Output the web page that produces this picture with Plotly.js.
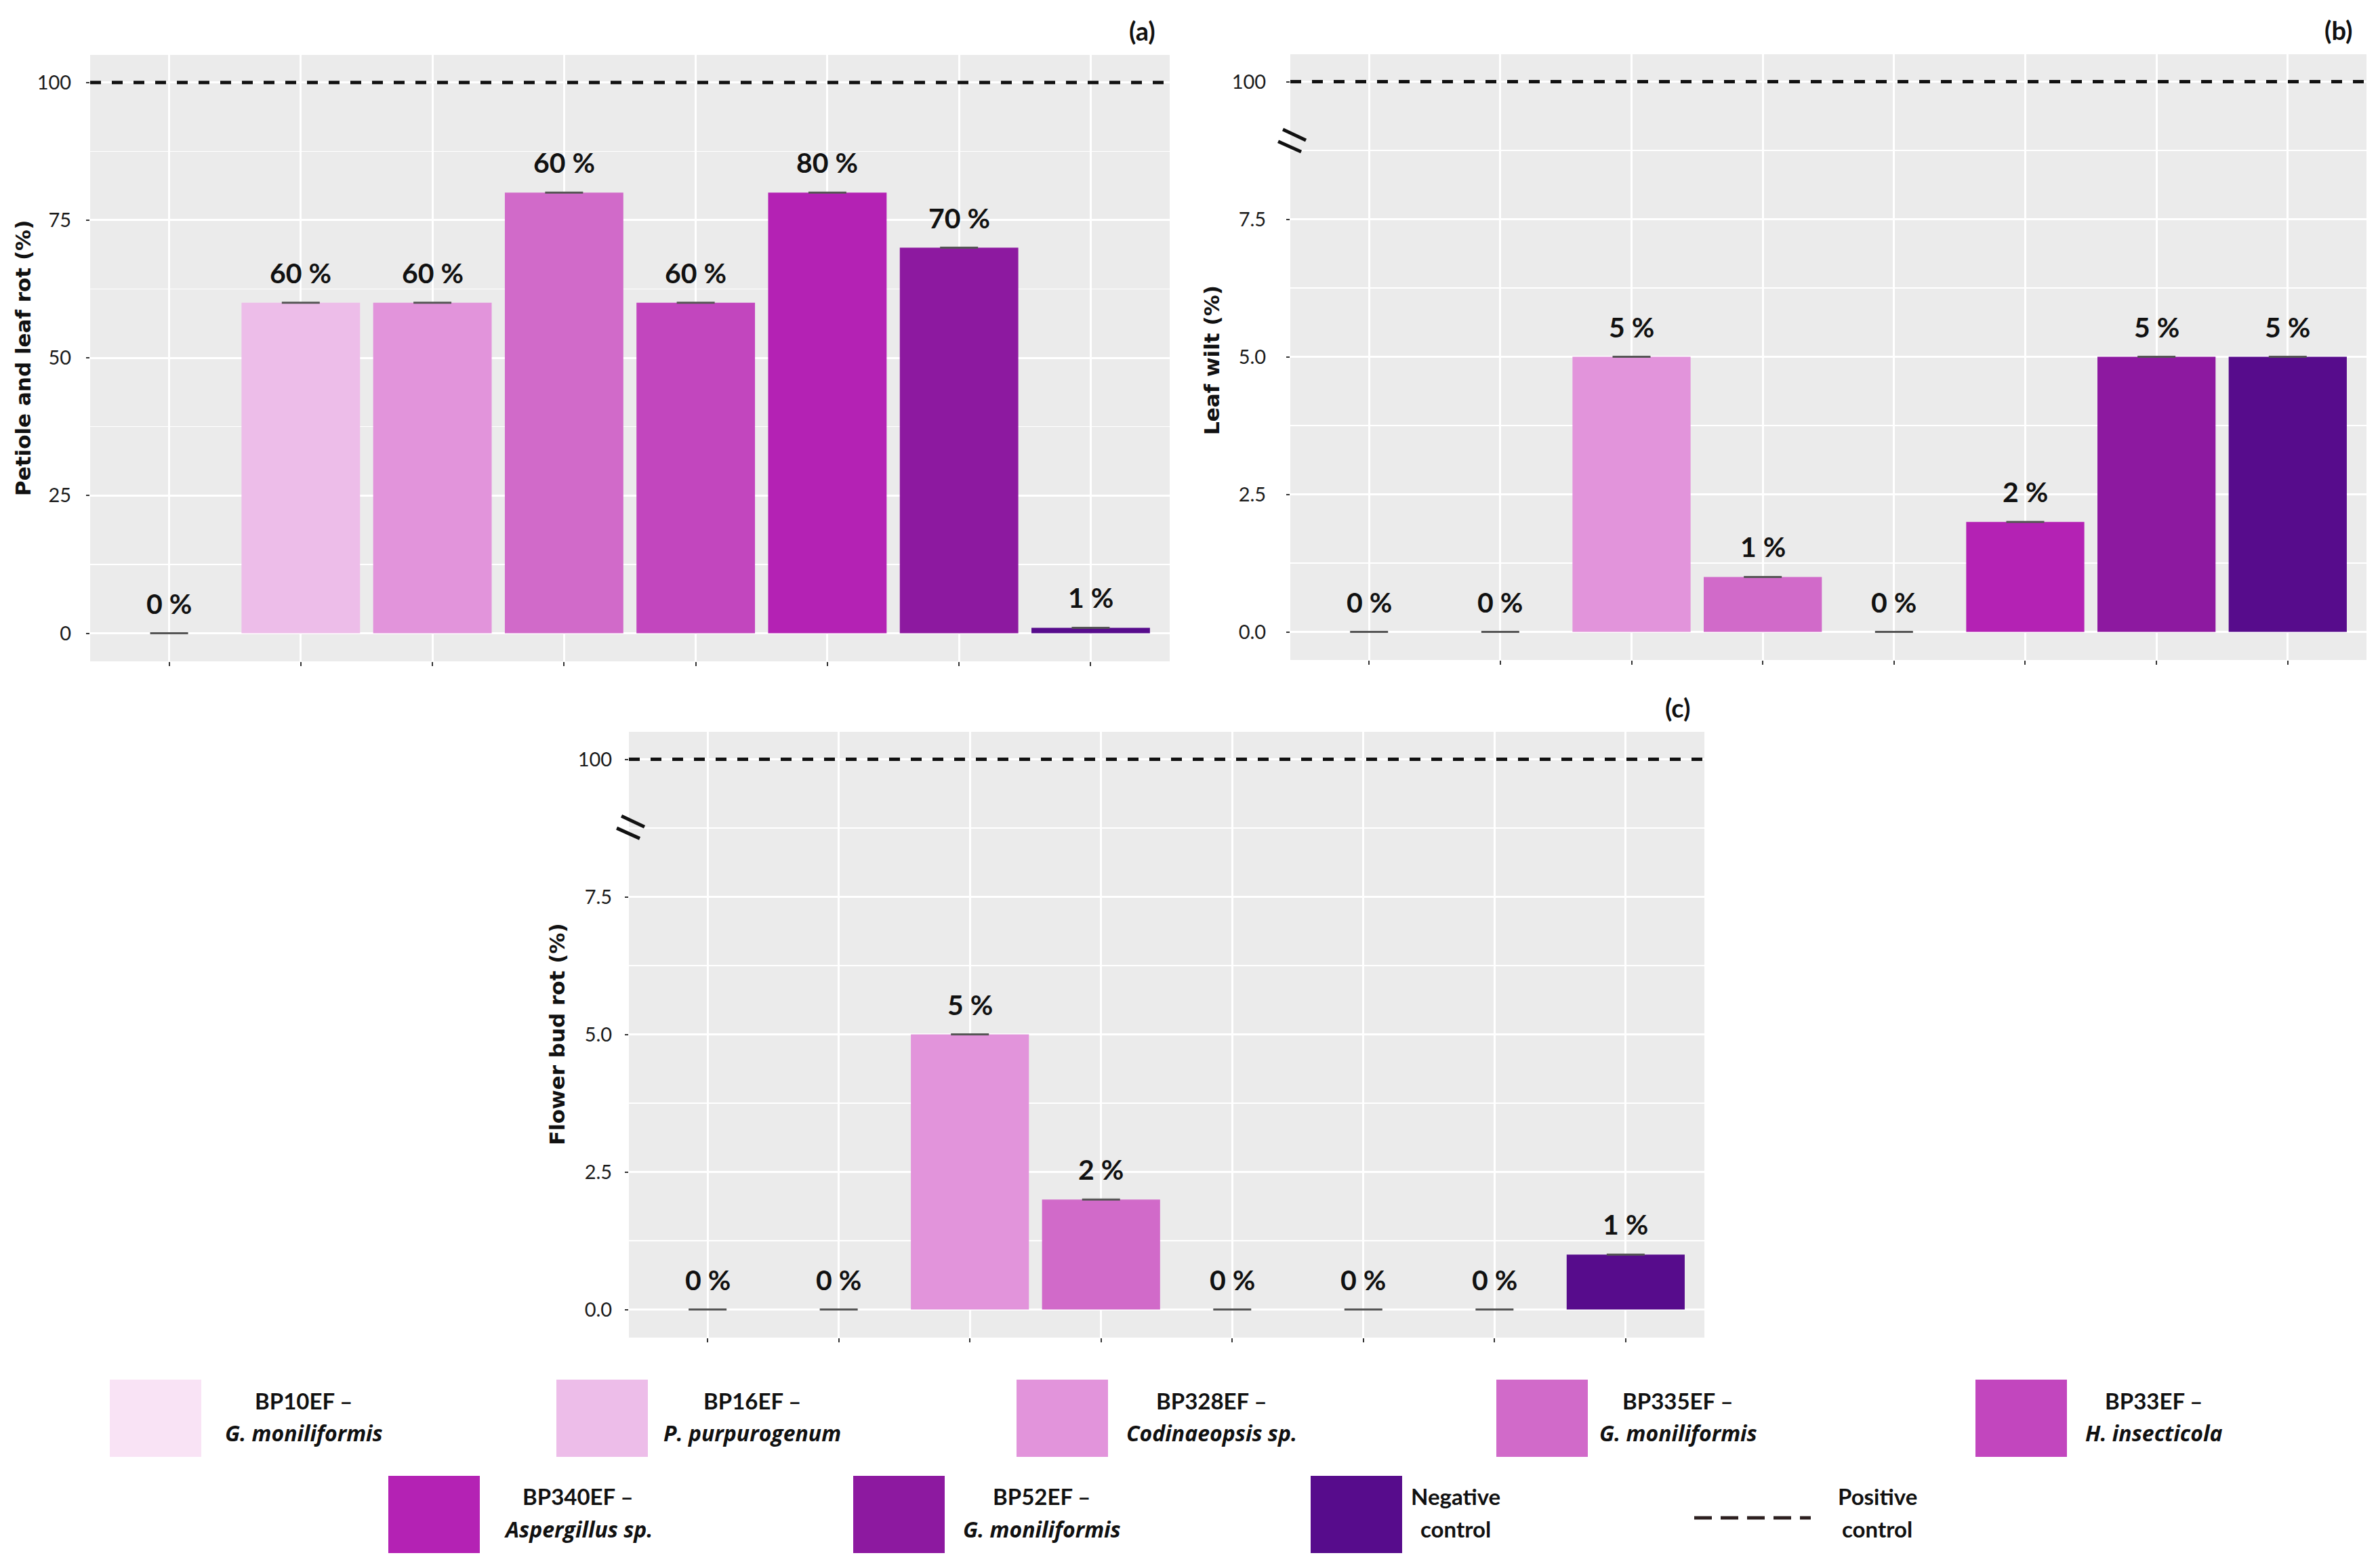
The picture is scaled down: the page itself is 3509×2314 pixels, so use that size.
<!DOCTYPE html>
<html>
<head>
<meta charset="utf-8">
<script src="https://cdn.plot.ly/plotly-3.0.1.min.js"></script>
<style>
  html, body { margin: 0; padding: 0; background: #fff; }
  #chart { width: 3509px; height: 2314px; }
</style>
</head>
<body>
<div id="chart"></div>
<script>
// categories (same order in every panel)
var strains = ['BP10EF', 'BP16EF', 'BP328EF', 'BP335EF', 'BP33EF', 'BP340EF', 'BP52EF', 'Negative control'];
var species = ['G. moniliformis', 'P. purpurogenum', 'Codinaeopsis sp.', 'G. moniliformis', 'H. insecticola', 'Aspergillus sp.', 'G. moniliformis', ''];
var barColors = ['#F9E3F5', '#EDBDE9', '#E294DB', '#D16AC9', '#C246BE', '#B422B4', '#8D19A0', '#570C8C'];

// (a) petiole and leaf rot
var petioleLeafRot = [0, 60, 60, 80, 60, 80, 70, 1];
var petioleLeafRotText = ['0 %', '60 %', '60 %', '60 %', '60 %', '80 %', '70 %', '1 %'];
// (b) leaf wilt
var leafWilt = [0, 0, 5, 1, 0, 2, 5, 5];
var leafWiltText = ['0 %', '0 %', '5 %', '1 %', '0 %', '2 %', '5 %', '5 %'];
// (c) flower bud rot
var flowerBudRot = [0, 0, 5, 2, 0, 0, 0, 1];
var flowerBudRotText = ['0 %', '0 %', '5 %', '2 %', '0 %', '0 %', '0 %', '1 %'];

// positive control line
var positiveControl = 100;

// tick labels
var ticksA = [0, 25, 50, 75, 100];
var ticksAText = ['0', '25', '50', '75', '100'];
var minorA = [12.5, 37.5, 62.5, 87.5];
// broken axis for (b) and (c): 10 on the axis stands for 100 above the break
var brokenAt = 10;
var ticksBC = [0, 2.5, 5, 7.5, brokenAt];
var ticksBCText = ['0.0', '2.5', '5.0', '7.5', '100'];
var minorBC = [1.25, 3.75, 6.25, 8.75];

var W = 3509, H = 2314;
function px(x) { return x / W; }
function py(y) { return 1 - y / H; }

function barTrace(values, xa, ya) {
  return {
    type: 'bar',
    x: strains,
    y: values,
    xaxis: xa,
    yaxis: ya,
    width: 0.9,
    marker: { color: barColors, line: { width: 0 } },
    error_y: { type: 'data', array: values.map(function () { return 0; }), visible: true, width: 28, thickness: 3, color: '#555' },
    hoverinfo: 'skip'
  };
}

function xAxis(l, r, anchor) {
  return {
    domain: [px(l), px(r)],
    anchor: anchor,
    type: 'category',
    range: [-0.6, 7.6],
    showgrid: true, gridcolor: '#FFFFFF', gridwidth: 3,
    showticklabels: false,
    ticks: 'outside', ticklen: 6, tickwidth: 2, tickcolor: '#333',
    zeroline: false, showline: false, fixedrange: true
  };
}

function yAxis(t, b, anchor, range, tv, tt, minor, standoff) {
  return {
    domain: [py(b), py(t)],
    anchor: anchor,
    range: range,
    tickmode: 'array', tickvals: tv, ticktext: tt,
    showgrid: true, gridcolor: '#FFFFFF', gridwidth: 3,
    minor: { tickvals: minor, showgrid: true, gridcolor: '#FFFFFF', gridwidth: 1.5, ticks: '' },
    ticks: 'outside', ticklen: 5, tickwidth: 2, tickcolor: '#333',
    ticklabelstandoff: standoff,
    tickfont: { family: 'Lato, Arial, sans-serif', size: 29, color: '#1a1a1a' },
    zeroline: false, showline: false, fixedrange: true
  };
}

function valueLabels(values, texts, xr, yr) {
  return values.map(function (v, i) {
    return {
      xref: xr, yref: yr, x: strains[i], y: v,
      text: texts[i], showarrow: false,
      xanchor: 'center', yanchor: 'bottom', yshift: 18,
      font: { family: 'Lato, Arial, sans-serif', size: 41, weight: 'bold', color: '#111' }
    };
  });
}

function controlLine(xr, yr, yv) {
  return {
    type: 'line', xref: xr, yref: yr, x0: 0, x1: 1, y0: yv, y1: yv,
    line: { color: '#111', width: 5, dash: '16px,16px' }, layer: 'above'
  };
}

function breakMarks(xr, yr, cy) {
  return [
    { type: 'line', xref: xr, yref: yr, x0: -0.0069, x1: 0.0145, y0: cy + 0.0189, y1: cy + 0.001, line: { color: '#111', width: 5 } },
    { type: 'line', xref: xr, yref: yr, x0: -0.0113, x1: 0.0101, y0: cy - 0.001, y1: cy - 0.018, line: { color: '#111', width: 5 } }
  ];
}

function panelTag(text, xr, yr) {
  return {
    xref: xr, yref: yr, x: 0.988, y: 1.04, text: text, showarrow: false,
    xanchor: 'right', yanchor: 'middle',
    font: { family: 'Lato, Arial, sans-serif', size: 38, weight: 'bold', color: '#111' }
  };
}

function axisTitle(text, x, y) {
  return {
    xref: 'paper', yref: 'paper', x: px(x), y: py(y), text: text, showarrow: false,
    textangle: -90, xanchor: 'center', yanchor: 'middle',
    font: { family: 'DejaVu Sans, Verdana, sans-serif', size: 31, weight: 'bold', color: '#111' }
  };
}

var data = [
  barTrace(petioleLeafRot, 'x', 'y'),
  barTrace(leafWilt, 'x2', 'y2'),
  barTrace(flowerBudRot, 'x3', 'y3')
];

var annotations = []
  .concat(valueLabels(petioleLeafRot, petioleLeafRotText, 'x', 'y'))
  .concat(valueLabels(leafWilt, leafWiltText, 'x2', 'y2'))
  .concat(valueLabels(flowerBudRot, flowerBudRotText, 'x3', 'y3'));

annotations.push(panelTag('(a)', 'x domain', 'y domain'));
annotations.push(panelTag('(b)', 'x2 domain', 'y2 domain'));
annotations.push(panelTag('(c)', 'x3 domain', 'y3 domain'));
annotations.push(axisTitle('Petiole and leaf rot (%)', 34, 529));
annotations.push(axisTitle('Leaf wilt (%)', 1788, 532));
annotations.push(axisTitle('Flower bud rot (%)', 822, 1526));

var shapes = [
  controlLine('x domain', 'y', positiveControl),
  controlLine('x2 domain', 'y2', brokenAt),
  controlLine('x3 domain', 'y3', brokenAt)
].concat(breakMarks('x2 domain', 'y2 domain', 0.857))
 .concat(breakMarks('x3 domain', 'y3 domain', 0.842));

// legend, drawn by hand: swatch left edge, text centre, row
var legendSlots = [
  { sx: 162, tx: 448, row: 0 }, { sx: 821, tx: 1110, row: 0 }, { sx: 1500, tx: 1788, row: 0 },
  { sx: 2208, tx: 2476, row: 0 }, { sx: 2915, tx: 3178, row: 0 },
  { sx: 573, tx: 853, row: 1 }, { sx: 1259, tx: 1537, row: 1 }, { sx: 1934, tx: 2148, row: 1 }
];
var legendRows = [
  { y0: 2036, y1: 2150, l1: 2067, l2: 2114 },
  { y0: 2178, y1: 2292, l1: 2208, l2: 2256 }
];
var legendFont = { family: 'Lato, Arial, sans-serif', size: 33, weight: 'bold', color: '#111' };
var speciesFont = { family: 'Open Sans, Lato, Arial, sans-serif', size: 32, weight: 'bold', style: 'italic', color: '#111' };

strains.forEach(function (s, i) {
  var slot = legendSlots[i], row = legendRows[slot.row];
  shapes.push({
    type: 'rect', xref: 'paper', yref: 'paper',
    x0: px(slot.sx), x1: px(slot.sx + 135), y0: py(row.y1), y1: py(row.y0),
    fillcolor: barColors[i], line: { width: 0 }
  });
  var first = species[i] ? s + ' –' : s.split(' ')[0];
  var second = species[i] ? species[i] : s.split(' ')[1];
  annotations.push({
    xref: 'paper', yref: 'paper', x: px(slot.tx), y: py(row.l1), text: first, showarrow: false,
    xanchor: 'center', yanchor: 'middle', font: legendFont
  });
  annotations.push({
    xref: 'paper', yref: 'paper', x: px(slot.tx), y: py(row.l2), text: second, showarrow: false,
    xanchor: 'center', yanchor: 'middle',
    font: species[i] ? speciesFont : legendFont
  });
});

// positive control entry
shapes.push({
  type: 'line', xref: 'paper', yref: 'paper', x0: px(2500), x1: px(2672), y0: py(2240), y1: py(2240),
  line: { color: '#2d2020', width: 5, dash: '26px,13px' }
});
annotations.push({ xref: 'paper', yref: 'paper', x: px(2770), y: py(2208), text: 'Positive', showarrow: false, xanchor: 'center', yanchor: 'middle', font: legendFont });
annotations.push({ xref: 'paper', yref: 'paper', x: px(2770), y: py(2256), text: 'control', showarrow: false, xanchor: 'center', yanchor: 'middle', font: legendFont });

var layout = {
  width: W,
  height: H,
  margin: { l: 0, r: 0, t: 0, b: 0 },
  paper_bgcolor: '#FFFFFF',
  plot_bgcolor: '#EBEBEB',
  showlegend: false,
  bargap: 0.1,
  xaxis: xAxis(133, 1726, 'y'),
  yaxis: yAxis(81, 976, 'x', [-5.1, 105], ticksA, ticksAText, minorA, 16),
  xaxis2: xAxis(1904, 3492, 'y2'),
  yaxis2: yAxis(80, 974, 'x2', [-0.51, 10.5], ticksBC, ticksBCText, minorBC, 24),
  xaxis3: xAxis(928, 2515, 'y3'),
  yaxis3: yAxis(1080, 1974, 'x3', [-0.51, 10.5], ticksBC, ticksBCText, minorBC, 13),
  annotations: annotations,
  shapes: shapes
};

Plotly.newPlot('chart', data, layout, { staticPlot: true });
</script>
</body>
</html>
